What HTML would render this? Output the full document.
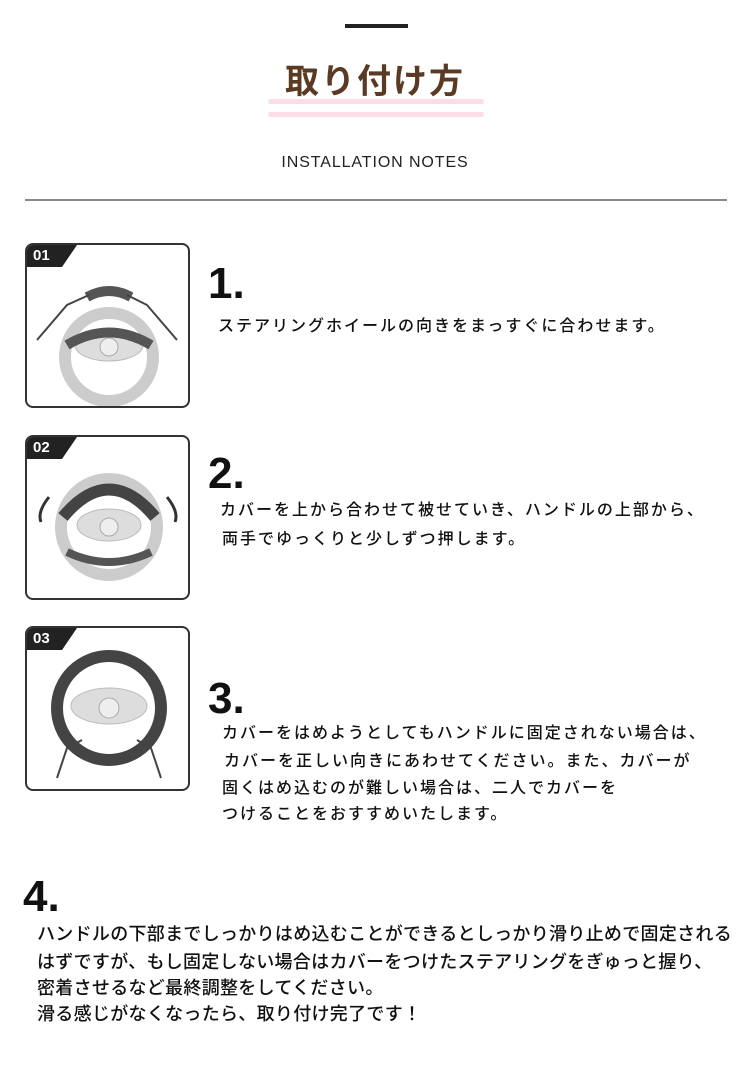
<!DOCTYPE html>
<html><head><meta charset="utf-8"><style>
body{margin:0;width:750px;height:1072px;background:#fff;position:relative;overflow:hidden;font-family:"Liberation Sans","Noto Sans CJK JP",sans-serif;color:#222}
.a{position:absolute;white-space:nowrap}
.num{font-family:"Liberation Sans",sans-serif;font-weight:bold;font-size:44px;color:#111;line-height:1}
.t{font-size:16px;letter-spacing:2px;line-height:1;color:#111;font-weight:500}
.t4{font-size:18px;letter-spacing:0.3px;line-height:1;color:#111;font-weight:500}
.box{position:absolute;left:25px;width:161px;height:161px;border:2px solid #333;border-radius:8px;background:#fff;overflow:hidden}
.tag{position:absolute;left:0;top:0;width:44px;height:22px;background:#222;clip-path:polygon(0 0,100% 0,70% 100%,0 100%);color:#fff;font:bold 15px "Liberation Sans",sans-serif;padding-left:6px;line-height:22px}
</style></head><body>
<div class="a" style="left:345px;top:24px;width:63px;height:4px;background:#222"></div>
<div class="a" style="left:268px;top:99px;width:216px;height:5px;background:#fbdde8;border-radius:3px"></div>
<div class="a" style="left:268px;top:112px;width:216px;height:5px;background:#fbdde8;border-radius:3px"></div>
<div class="a" style="left:285px;top:64px;font-size:34px;font-weight:bold;color:#5a3a22;letter-spacing:2px;line-height:1.1">取り付け方</div>
<div class="a" style="left:0;width:750px;text-align:center;top:154px;font-size:16px;color:#222;letter-spacing:0.9px">INSTALLATION NOTES</div>
<div class="a" style="left:25px;top:199px;width:702px;height:2px;background:#888"></div>

<div class="box" style="top:243px"><div class="tag">01</div>
<svg width="161" height="161"><circle cx="82" cy="112" r="44" fill="none" stroke="#ccc" stroke-width="12"/><ellipse cx="82" cy="100" rx="34" ry="16" fill="#ddd" stroke="#bbb"/><circle cx="82" cy="102" r="9" fill="#eee" stroke="#aaa"/><path d="M40 100 Q82 75 124 100" fill="none" stroke="#555" stroke-width="10"/><path d="M60 52 Q82 40 104 52" fill="none" stroke="#555" stroke-width="10"/><path d="M10 95 L40 60 L62 50 M150 95 L120 60 L100 50" fill="none" stroke="#444" stroke-width="2"/></svg></div>
<div class="box" style="top:435px"><div class="tag">02</div>
<svg width="161" height="161"><circle cx="82" cy="90" r="48" fill="none" stroke="#ccc" stroke-width="12"/><ellipse cx="82" cy="88" rx="32" ry="16" fill="#ddd" stroke="#bbb"/><circle cx="82" cy="90" r="9" fill="#eee" stroke="#aaa"/><path d="M36 80 Q82 25 128 80" fill="none" stroke="#444" stroke-width="12"/><path d="M40 115 Q82 135 124 115" fill="none" stroke="#555" stroke-width="8"/><path d="M22 60 Q10 75 14 85 M140 60 Q152 75 148 85" fill="none" stroke="#333" stroke-width="3"/></svg></div>
<div class="box" style="top:626px"><div class="tag">03</div>
<svg width="161" height="161"><circle cx="82" cy="80" r="52" fill="none" stroke="#444" stroke-width="12"/><ellipse cx="82" cy="78" rx="38" ry="18" fill="#ddd" stroke="#bbb"/><circle cx="82" cy="80" r="10" fill="#eee" stroke="#aaa"/><path d="M30 150 L40 120 L55 112 M134 150 L124 120 L110 112" fill="none" stroke="#444" stroke-width="2"/></svg></div>

<div class="a num" style="left:208px;top:262px">1.</div>
<div class="a t" style="left:218px;top:319px">ステアリングホイールの向きをまっすぐに合わせます。</div>
<div class="a num" style="left:208px;top:452px">2.</div>
<div class="a t" style="left:220px;top:503px">カバーを上から合わせて被せていき、ハンドルの上部から、</div>
<div class="a t" style="left:222px;top:532px">両手でゆっくりと少しずつ押します。</div>
<div class="a num" style="left:208px;top:677px">3.</div>
<div class="a t" style="left:222px;top:726px">カバーをはめようとしてもハンドルに固定されない場合は、</div>
<div class="a t" style="left:224px;top:754px">カバーを正しい向きにあわせてください。また、カバーが</div>
<div class="a t" style="left:222px;top:781px">固くはめ込むのが難しい場合は、二人でカバーを</div>
<div class="a t" style="left:222px;top:807px">つけることをおすすめいたします。</div>
<div class="a num" style="left:23px;top:875px">4.</div>
<div class="a t4" style="left:37px;top:925px">ハンドルの下部までしっかりはめ込むことができるとしっかり滑り止めで固定される</div>
<div class="a t4" style="left:37px;top:953px">はずですが、もし固定しない場合はカバーをつけたステアリングをぎゅっと握り、</div>
<div class="a t4" style="left:37px;top:979px">密着させるなど最終調整をしてください。</div>
<div class="a t4" style="left:37px;top:1005px">滑る感じがなくなったら、取り付け完了です！</div>
</body></html>
